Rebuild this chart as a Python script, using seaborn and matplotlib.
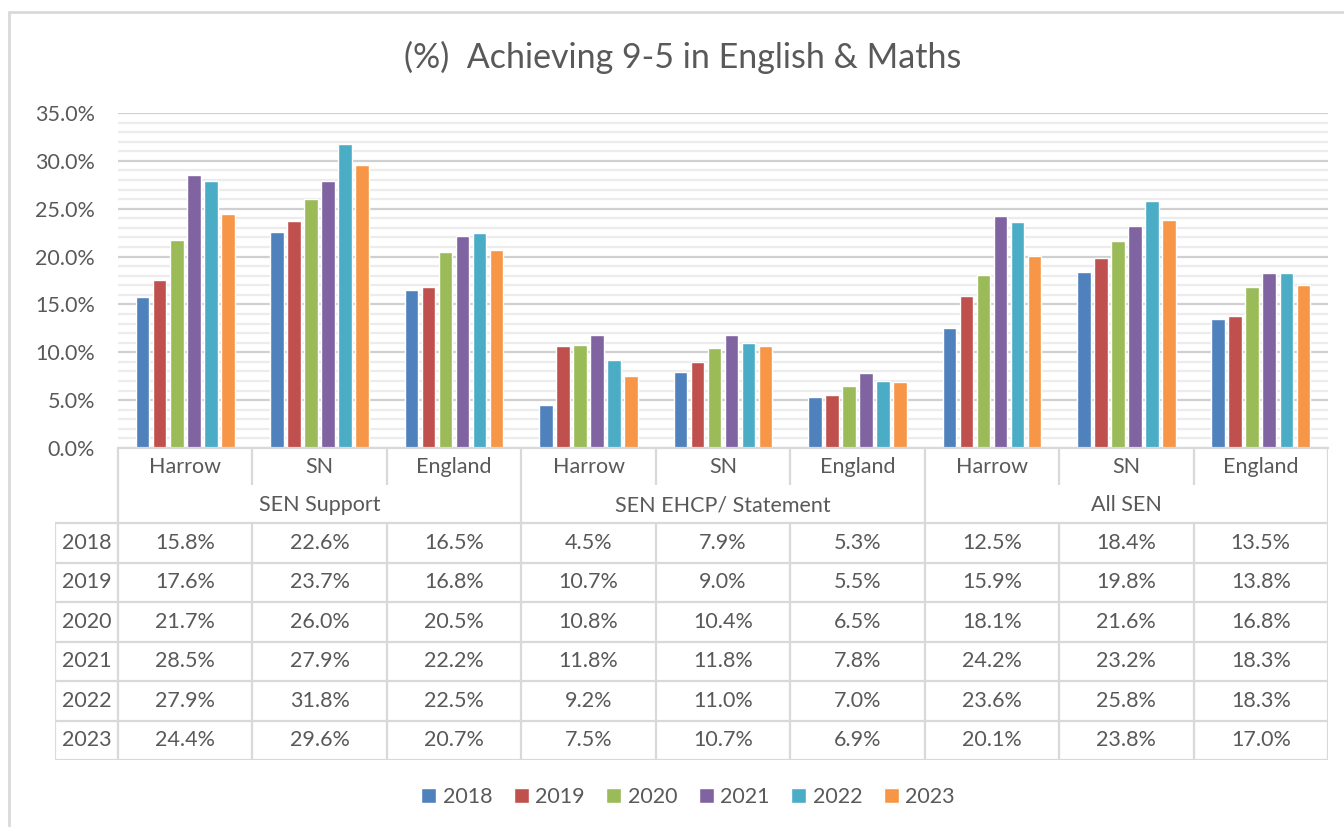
import pandas as pd
import numpy as np

import matplotlib.pyplot as plt
import seaborn as sns
from matplotlib.ticker import MultipleLocator, FuncFormatter

groups = ["SEN Support", "SEN EHCP/ Statement", "All SEN"]
areas = ["Harrow", "SN", "England"]
years = ["2018", "2019", "2020", "2021", "2022", "2023"]

v2018 = [15.8, 22.6, 16.5, 4.5, 7.9, 5.3, 12.5, 18.4, 13.5]
v2019 = [17.6, 23.7, 16.8, 10.7, 9.0, 5.5, 15.9, 19.8, 13.8]
v2020 = [21.7, 26.0, 20.5, 10.8, 10.4, 6.5, 18.1, 21.6, 16.8]
v2021 = [28.5, 27.9, 22.2, 11.8, 11.8, 7.8, 24.2, 23.2, 18.3]
v2022 = [27.9, 31.8, 22.5, 9.2, 11.0, 7.0, 23.6, 25.8, 18.3]
v2023 = [24.4, 29.6, 20.7, 7.5, 10.7, 6.9, 20.1, 23.8, 17.0]

colors = ["#4F81BD", "#C0504D", "#9BBB59", "#8064A2", "#4BACC6", "#F79646"]

# long format for seaborn
keys = [g + "|" + a for g in groups for a in areas]
rows = []
for yr, vals in zip(years, [v2018, v2019, v2020, v2021, v2022, v2023]):
    for k, v in zip(keys, vals):
        rows.append({"key": k, "year": yr, "value": v})
df = pd.DataFrame(rows)

sns.set_style("white")
plt.rcParams['font.family'] = ['Lato', 'DejaVu Sans']
txt = "#595959"
grid = "#d9d9d9"

W, H = 1344, 827
fig = plt.figure(figsize=(W / 100, H / 100), dpi=100)


def box(x0, y0, x1, y1):
    return [x0 / W, 1 - y1 / H, (x1 - x0) / W, (y1 - y0) / H]


# chart border
fig.add_artist(plt.Line2D([9 / W, 1], [1 - 12 / H, 1 - 12 / H], color="#d9d9d9", lw=2))
fig.add_artist(plt.Line2D([9 / W, 9 / W], [0, 1 - 12 / H], color="#d9d9d9", lw=2))

ax = fig.add_axes(box(118, 113, 1328, 448))
sns.barplot(data=df, x="key", y="value", hue="year", order=keys, hue_order=years,
            palette=colors, width=0.76, gap=0.2, saturation=1, ax=ax)
ax.set_xlim(-0.5, 8.5)
ax.set_ylim(0, 35)
ax.yaxis.set_major_locator(MultipleLocator(5))
ax.yaxis.set_minor_locator(MultipleLocator(1))
ax.yaxis.set_major_formatter(FuncFormatter(lambda v, p: f"{v:.1f}%"))
ax.grid(axis="y", which="major", color="#d0d0d0", lw=1.6)
ax.grid(axis="y", which="minor", color="#ececec", lw=1.6)
ax.set_axisbelow(True)
ax.tick_params(axis="y", which="both", length=0, labelsize=15.5, labelcolor=txt, pad=16.5)
ax.set_xticks([])
ax.set_xlabel("")
ax.set_ylabel("")
for s in ["top", "right", "left"]:
    ax.spines[s].set_visible(False)
ax.spines["bottom"].set_color(grid)
ax.spines["bottom"].set_linewidth(1.6)

fig.text(683 / W, 1 - 57 / H, "(%)  Achieving 9-5 in English & Maths", ha="center", va="center",
         fontsize=24.5, color=txt)

# data table below the plot
unit = (1328 - 118) / 9
xl = -0.5 - (118 - 55) / unit
tb = fig.add_axes(box(55, 448, 1328, 760))
tb.set_xlim(xl, 8.5)
tb.set_ylim(760, 448)
tb.axis("off")
lk = dict(color=grid, lw=1.6, solid_capstyle="butt")
row_edges = [523, 562.5, 602, 641.5, 681, 720.5, 760]
for y in row_edges:
    tb.plot([xl, 8.5], [y, y], **lk)
tb.plot([xl, xl], [523, 760], **lk)
for x in [-0.5, 2.5, 5.5, 8.5]:
    tb.plot([x, x], [448, 760], **lk)
for x in [0.5, 1.5, 3.5, 4.5, 6.5, 7.5]:
    tb.plot([x, x], [448, 485], **lk)
    tb.plot([x, x], [523, 760], **lk)

fs = 15.5
for i in range(9):
    tb.text(i, 467, areas[i % 3], ha="center", va="center", fontsize=fs, color=txt)
for g, name in enumerate(groups):
    tb.text(g * 3 + 1, 505, name, ha="center", va="center", fontsize=fs, color=txt)
for r, (yr, vals) in enumerate(zip(years, [v2018, v2019, v2020, v2021, v2022, v2023])):
    yc = (row_edges[r] + row_edges[r + 1]) / 2
    tb.text((xl - 0.5) / 2, yc, yr, ha="center", va="center", fontsize=fs, color=txt)
    for i, v in enumerate(vals):
        tb.text(i, yc, f"{v:.1f}%", ha="center", va="center", fontsize=fs, color=txt)

sns.move_legend(ax, "center", bbox_to_anchor=(688 / W, 1 - 797 / H), bbox_transform=fig.transFigure,
                ncol=6, frameon=False, title=None, fontsize=15.5, handlelength=0.7, handleheight=0.7,
                handletextpad=0.3, columnspacing=1.0, labelcolor=txt)

fig.savefig("out.png", dpi=100)
